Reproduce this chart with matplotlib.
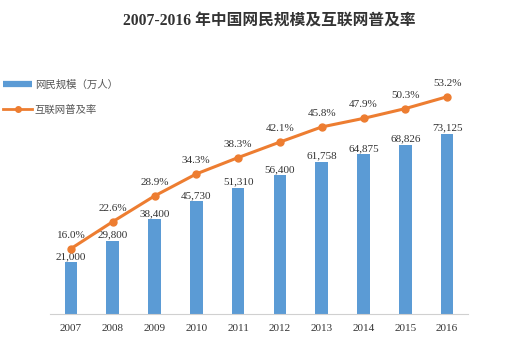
import numpy as np
import matplotlib
matplotlib.use('Agg')
import matplotlib.pyplot as plt
from matplotlib.lines import Line2D

years = ['2007', '2008', '2009', '2010', '2011', '2012', '2013', '2014', '2015', '2016']
netizens = [21000, 29800, 38400, 45730, 51310, 56400, 61758, 64875, 68826, 73125]
penetration = [16.0, 22.6, 28.9, 34.3, 38.3, 42.1, 45.8, 47.9, 50.3, 53.2]

blue = '#5B9BD5'
orange = '#ED7D31'
fam = ['Liberation Serif', 'Noto Sans CJK SC']
plt.rcParams['font.family'] = fam

fig = plt.figure(figsize=(5.2, 3.52), dpi=100)
ax = fig.add_axes([50/520, 38/352, 418/520, 234/352])
x = np.arange(len(years))

ax.bar(x, netizens, width=0.3, color=blue, zorder=2)
ax.set_xlim(-0.5, 9.5)
ax.set_ylim(0, 95060)
for xi, v in zip(x, netizens):
    ax.text(xi, v + 500, f'{v:,}', ha='center', va='bottom', fontsize=8, color='#333333')

ax2 = ax.twinx()
ax2.plot(x, penetration, color=orange, lw=2.2, marker='o', ms=5, zorder=3)
ax2.set_ylim(0, 57.3)
for xi, v in zip(x, penetration):
    ax2.text(xi, v + 2.2, f'{v:.1f}%', ha='center', va='bottom', fontsize=8, color='#333333')

for a in (ax, ax2):
    for s in ('top', 'right', 'left'):
        a.spines[s].set_visible(False)
    a.set_yticks([])
ax2.spines['bottom'].set_visible(False)
ax.spines['bottom'].set_color('#d0d0d0')
ax.set_xticks(x)
ax.set_xticklabels(years, fontsize=8, color='#333333')
ax.tick_params(axis='x', length=0, pad=7)

fig.text(0.518, 0.94, '2007-2016 年中国网民规模及互联网普及率', ha='center', va='center',
         fontsize=11.3, fontweight='bold', color='#333333')

handles = [Line2D([0], [0], color=blue, lw=4.5, solid_capstyle='butt'),
           Line2D([0], [0], color=orange, lw=2, marker='o', ms=4)]
fig.legend(handles, ['网民规模（万人）', '互联网普及率'], loc='upper left',
           bbox_to_anchor=(-0.012, 0.802), frameon=False, fontsize=7.5,
           handlelength=2.8, labelspacing=1.45, handletextpad=0.25,
           labelcolor='#555555')

fig.savefig('out.png', dpi=100)
